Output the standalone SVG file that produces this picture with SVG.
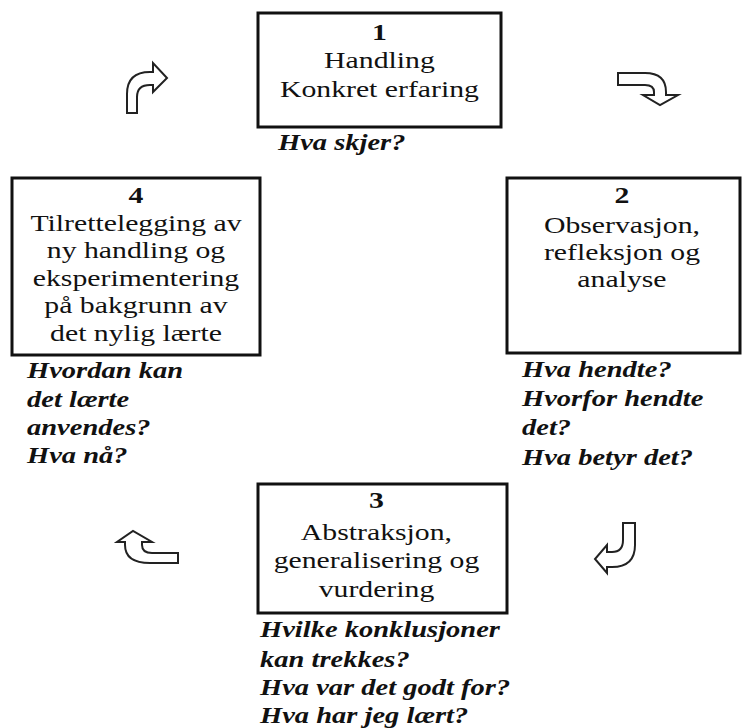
<svg xmlns="http://www.w3.org/2000/svg" width="743" height="728" viewBox="0 0 743 728">
<style>
.box{fill:#fff;stroke:#111;stroke-width:3}
.arr{fill:#fff;stroke:#222;stroke-width:2;stroke-linejoin:miter}
.t{font-family:"Liberation Serif","Times New Roman",serif;font-size:24px;fill:#111;text-anchor:middle}
.n{font-weight:bold}
.q{font-family:"Liberation Serif","Times New Roman",serif;font-size:23px;font-style:italic;font-weight:bold;fill:#111}
</style>
<rect width="743" height="728" fill="#fff"/>
<g id="connectors">
<path class="arr" d="M127,113 L127,94 Q127,72 150,72 L153,72 L153,63 L167,78 L153,92 L153,85 L150,85 Q137,85 137,97 L137,113 Z"/>
<path class="arr" d="M618,73 L645,73 Q666,73 666,92 L666,95 L678,95 L660,105 L643,95 L654,95 L654,92 Q654,85 645,85 L618,85 Z"/>
<path class="arr" d="M623,523 L635,523 L635,545 Q635,567 612,567 L607,567 L607,573 L595,559 L607,545 L607,552 L612,552 Q623,552 623,540 Z"/>
<path class="arr" d="M178,553 L178,563 L150,563 Q125,563 125,545 L125,542 L117,542 L133,531 L152,542 L142,542 L142,545 Q142,553 152,553 Z"/>
</g>
<g id="node1">
<rect class="box" x="258" y="13" width="243" height="114"/>
<g transform="scale(1.24 1)">
<text class="t n" x="306" y="40">1</text>
<text class="t" x="306" y="68">Handling</text>
<text class="t" x="306" y="97">Konkret erfaring</text>
<text class="q" x="224.2" y="150">Hva skjer?</text>
</g>
</g>
<g id="node2">
<rect class="box" x="507" y="178" width="233" height="175"/>
<g transform="scale(1.24 1)">
<text class="t n" x="501.6" y="203">2</text>
<text class="t" x="501.6" y="233">Observasjon,</text>
<text class="t" x="501.6" y="260">refleksjon og</text>
<text class="t" x="501.6" y="287">analyse</text>
<text class="q" x="421" y="377">Hva hendte?</text>
<text class="q" x="421" y="406">Hvorfor hendte</text>
<text class="q" x="421" y="435">det?</text>
<text class="q" x="421" y="465">Hva betyr det?</text>
</g>
</g>
<g id="node3">
<rect class="box" x="258" y="484" width="249" height="129"/>
<g transform="scale(1.24 1)">
<text class="t n" x="303.6" y="508">3</text>
<text class="t" x="303.6" y="540">Abstraksjon,</text>
<text class="t" x="303.6" y="568">generalisering og</text>
<text class="t" x="303.6" y="597">vurdering</text>
<text class="q" x="209.7" y="637">Hvilke konklusjoner</text>
<text class="q" x="209.7" y="667">kan trekkes?</text>
<text class="q" x="209.7" y="695">Hva var det godt for?</text>
<text class="q" x="209.7" y="723">Hva har jeg lært?</text>
</g>
</g>
<g id="node4">
<rect class="box" x="12" y="178" width="248" height="177"/>
<g transform="scale(1.24 1)">
<text class="t n" x="109.7" y="203">4</text>
<text class="t" x="109.7" y="231">Tilrettelegging av</text>
<text class="t" x="109.7" y="258.5">ny handling og</text>
<text class="t" x="109.7" y="286">eksperimentering</text>
<text class="t" x="109.7" y="313.5">på bakgrunn av</text>
<text class="t" x="109.7" y="341">det nylig lærte</text>
<text class="q" x="21.8" y="378">Hvordan kan</text>
<text class="q" x="21.8" y="407">det lærte</text>
<text class="q" x="21.8" y="435">anvendes?</text>
<text class="q" x="21.8" y="463">Hva nå?</text>
</g>
</g>
</svg>
